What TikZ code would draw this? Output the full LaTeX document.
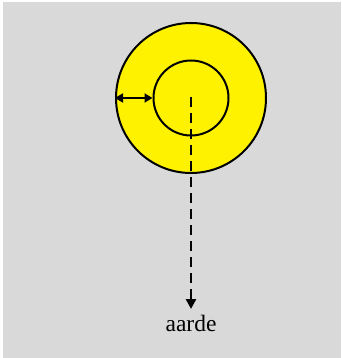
\documentclass[tikz,border=0pt]{standalone}
\usepackage{fontspec}
\setmainfont{Liberation Serif}
\usetikzlibrary{arrows.meta, positioning}

\begin{document}
\begin{tikzpicture}[
    x=1pt, y=-1pt,
    ring/.style={circle, draw, line width=2pt, fill=yellow, inner sep=0pt},
    gap/.style={{Triangle[length=8pt,width=9pt]}-{Triangle[length=8pt,width=9pt]}, line width=2.8pt},
    fall/.style={-{Triangle[length=10pt,width=10pt]}, line width=2.8pt, dash pattern=on 10pt off 6pt},
    lbl/.style={font=\fontsize{23.5}{27}\selectfont, inner sep=0pt}
]
    % background
    \fill[white] (0,0) rectangle (341,358);
    \fill[black!15] (3,2) rectangle (341,358);

    \node[ring, minimum size=150pt] (outer) at (191,98) {};
    \node[ring, minimum size=75pt] (inner) at (191,98) {};
    \coordinate (mid) at (191,97);

    \node[lbl, anchor=north] (earth) at (191,315) {aarde};

    \draw[gap] (outer.west) -- (inner.west);
    \draw[fall] (mid) -- ([yshift=6pt]earth.north);
\end{tikzpicture}
\end{document}
